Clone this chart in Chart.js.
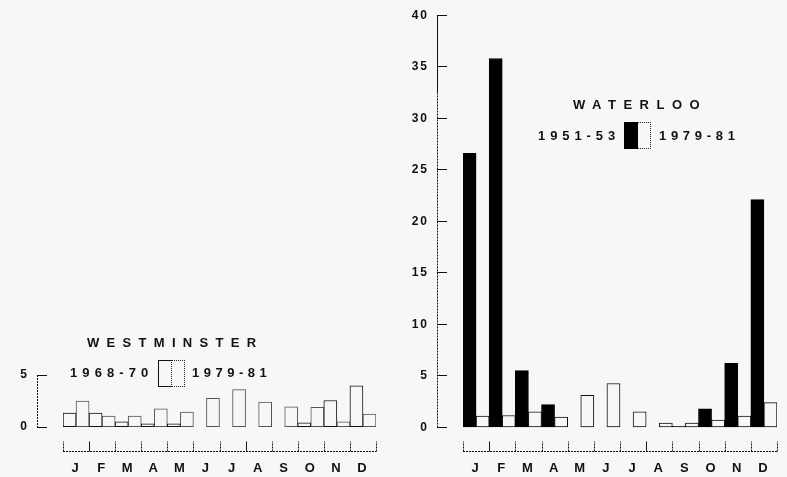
<!DOCTYPE html>
<html><head><meta charset="utf-8">
<script src="https://cdn.jsdelivr.net/npm/chart.js@4/dist/chart.umd.min.js"></script>
<style>
html,body{margin:0;padding:0;background:#f7f7f7;}
#wrap{position:relative;width:787px;height:477px;overflow:hidden;font-family:"Liberation Sans",Arial,sans-serif;font-weight:bold;color:#111;}
canvas{position:absolute;left:0;top:0;}
.t{position:absolute;font-size:13px;line-height:16px;white-space:nowrap;}
.box{position:absolute;width:27px;height:27px;display:flex;box-sizing:border-box;}
.box span{flex:1;box-sizing:border-box;}
</style></head>
<body><div id="wrap">
<canvas id="cWest" width="787" height="477"></canvas>
<canvas id="cWat" width="787" height="477"></canvas>
<div class="t" style="left:87px;top:335px;letter-spacing:7.3px">WESTMINSTER</div>
<div class="t" style="left:70px;top:365px;letter-spacing:5.1px">1968-70</div>
<div class="box" style="left:158px;top:360px"><span style="border:1px solid #111;border-right:1px dotted #222"></span><span style="border:1px dotted #222;border-left:none"></span></div>
<div class="t" style="left:192px;top:365px;letter-spacing:4.5px">1979-81</div>
<div class="t" style="left:573px;top:97px;letter-spacing:7.5px">WATERLOO</div>
<div class="t" style="left:538px;top:128px;letter-spacing:4.9px">1951-53</div>
<div class="box" style="left:624px;top:122px"><span style="background:#000;border:1px solid #000"></span><span style="border:1px dotted #222;border-left:none"></span></div>
<div class="t" style="left:659px;top:128px;letter-spacing:4.7px">1979-81</div>
</div>
<script>
// ---- data ----
const MONTHS = ['J','F','M','A','M','J','J','A','S','O','N','D'];
const WESTMINSTER_1968_70 = [1.35, 1.35, 0.5, 0.3, 0.3, null, null, null, null, 0.4, 2.55, 3.95];
const WESTMINSTER_1979_81 = [2.5, 1.05, 1.05, 1.75, 1.45, 2.75, 3.6, 2.4, 1.95, 1.9, 0.5, 1.25];
const WATERLOO_1951_53 = [26.6, 35.8, 5.5, 2.2, null, null, null, null, 0.1, 1.8, 6.2, 22.1];
const WATERLOO_1979_81 = [1.1, 1.15, 1.5, 1.0, 3.1, 4.25, 1.5, 0.4, 0.4, 0.7, 1.1, 2.4];
const WESTMINSTER_TICKS = [0, 5];
const WATERLOO_TICKS = [0, 5, 10, 15, 20, 25, 30, 35, 40];

const BG = '#f7f7f7';
const INK = '#111';

// draws the detached y-axis line and the dotted month axis with upward ticks
const framePlugin = {
  id: 'frame',
  beforeLayout(chart){ chart.ctx.letterSpacing = '2px'; },
  beforeDraw(chart){ chart.ctx.letterSpacing = '2px'; },
  afterDraw(chart, args, o) {
    const {ctx, chartArea: ca, scales: {x, y}} = chart;
    const gap = y.options.grid.tickLength;
    const ax = Math.round(ca.left - gap) + 0.5;
    const yTop = y.getPixelForValue(y.max);
    const ySolid = y.getPixelForValue(o.solidTo);
    const y0 = y.getPixelForValue(0);
    ctx.save();
    ctx.strokeStyle = INK; ctx.lineWidth = 1;
    ctx.beginPath(); ctx.setLineDash([]);
    ctx.moveTo(ax, yTop); ctx.lineTo(ax, ySolid); ctx.stroke();
    ctx.beginPath(); ctx.setLineDash([2, 1]);
    ctx.moveTo(ax, ySolid); ctx.lineTo(ax, y0); ctx.stroke();
    // month axis
    const yb = Math.round(ca.bottom) + 0.5;
    ctx.beginPath(); ctx.setLineDash([2, 1]);
    ctx.moveTo(ca.left, yb); ctx.lineTo(ca.right, yb); ctx.stroke();
    for (let i = 0; i <= MONTHS.length; i++) {
      const px = Math.round(x.getPixelForValue(i - 0.5)) + 0.5;
      ctx.beginPath();
      ctx.setLineDash(i % 6 === 1 ? [] : [2, 1]);
      ctx.moveTo(px, yb); ctx.lineTo(px, yb - 10); ctx.stroke();
    }
    ctx.restore();
  }
};

function makeChart(id, datasets, ticks, yMax, pad, yWidth, solidTo) {
  return new Chart(document.getElementById(id), {
    type: 'bar',
    data: { labels: MONTHS, datasets },
    plugins: [framePlugin],
    options: {
      responsive: false, animation: false,
      layout: { padding: pad },
      plugins: { legend: { display: false }, tooltip: { enabled: false }, frame: { solidTo } },
      datasets: { bar: { categoryPercentage: 1, barPercentage: 1, borderWidth: 1, borderSkipped: false } },
      scales: {
        x: {
          offset: true,
          grid: { display: false, drawTicks: false },
          border: { display: false },
          ticks: { padding: 10, color: INK, font: { family: 'Liberation Sans', size: 13, weight: 'bold' }, maxRotation: 0, autoSkip: false },
          afterFit: s => { s.height = 26; }
        },
        y: {
          min: -2.3, max: yMax,
          afterBuildTicks: s => { s.ticks = ticks.map(v => ({ value: v })); },
          afterFit: s => { s.width = yWidth; },
          border: { display: false },
          grid: { drawOnChartArea: false, drawTicks: true, tickLength: 26, tickColor: INK, tickWidth: 1, tickBorderDash: [10, 100] },
          ticks: { padding: 8, color: INK, font: { family: 'Liberation Sans', size: 12, weight: 'bold' }, callback: v => String(v) }
        }
      }
    }
  });
}

makeChart('cWest', [
  { label: '1968-70', data: WESTMINSTER_1968_70, backgroundColor: BG, borderColor: INK },
  { label: '1979-81', data: WESTMINSTER_1979_81, backgroundColor: BG, borderColor: '#555' }
], WESTMINSTER_TICKS, 5, { left: 10, right: 411, top: 375, bottom: 0 }, 53, 5);

makeChart('cWat', [
  { label: '1951-53', data: WATERLOO_1951_53, backgroundColor: '#000', borderColor: '#000' },
  { label: '1979-81', data: WATERLOO_1979_81, backgroundColor: BG, borderColor: INK }
], WATERLOO_TICKS, 40, { left: 400, right: 10, top: 14, bottom: 0 }, 63, 32.5);
</script>
</body></html>
